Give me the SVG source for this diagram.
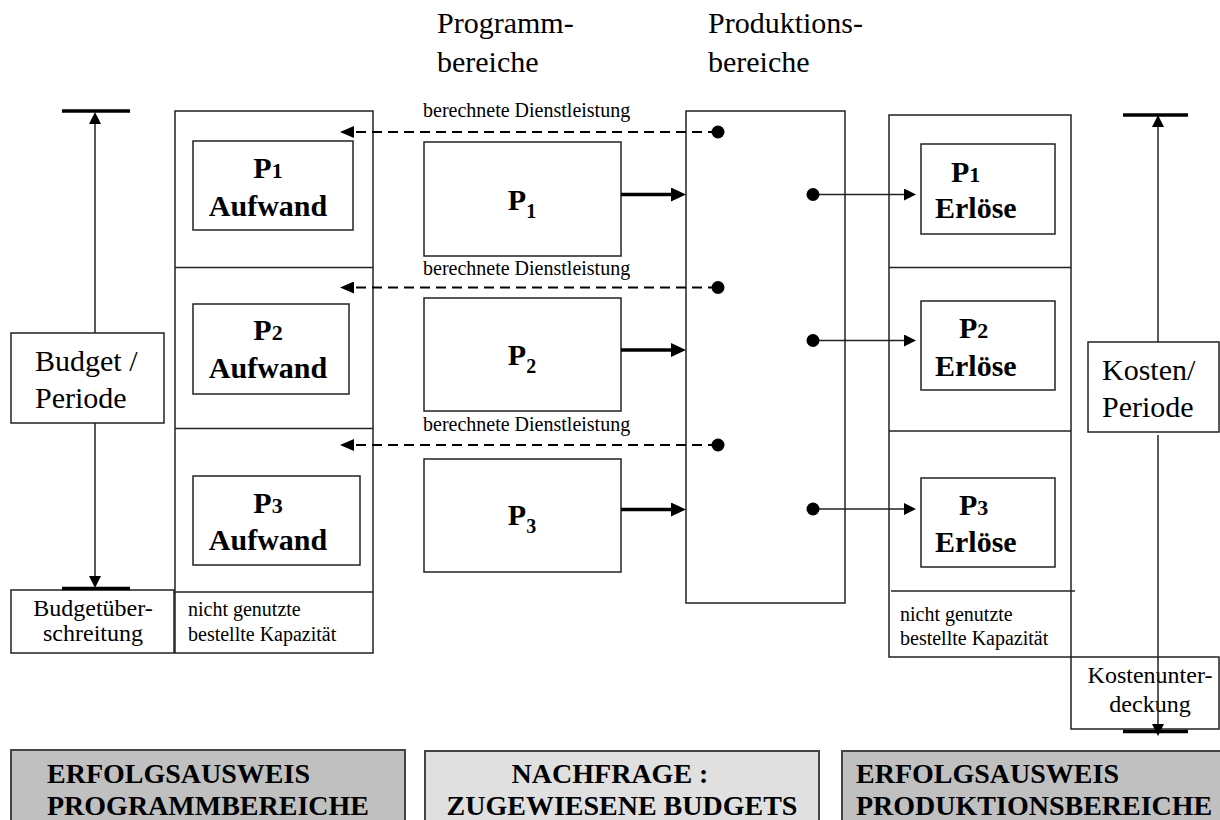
<svg xmlns="http://www.w3.org/2000/svg" width="1220" height="820" viewBox="0 0 1220 820">
<style>
.box{fill:#fff;stroke:#222;stroke-width:1.5}
.t{font-family:"Liberation Serif","Times New Roman",serif;fill:#000}
.big{font-size:30px}
.mid{font-size:24px}
.sm{font-size:20px}
.b{font-weight:bold}
.ln{stroke:#222;stroke-width:1.5;fill:none}
.bar{stroke:#000;stroke-width:3.5}
.dash{stroke:#000;stroke-width:2;stroke-dasharray:10 6;fill:none}
.thick{stroke:#000;stroke-width:3.5;fill:none}
.foot{stroke:#444;stroke-width:2}
</style>
<defs>
<marker id="ah" markerUnits="userSpaceOnUse" viewBox="0 0 12 12" refX="0" refY="6" markerWidth="12" markerHeight="12" orient="auto"><path d="M0,0L12,6L0,12z" fill="#000"/></marker>
<marker id="ahd" markerUnits="userSpaceOnUse" viewBox="0 0 14 12" refX="0" refY="6" markerWidth="14" markerHeight="12" orient="auto"><path d="M0,0L14,6L0,12z" fill="#000"/></marker>
<marker id="ahb" markerUnits="userSpaceOnUse" viewBox="0 0 15 14" refX="0" refY="7" markerWidth="15" markerHeight="14" orient="auto"><path d="M0,0L15,7L0,14z" fill="#000"/></marker>
<marker id="dot" markerUnits="userSpaceOnUse" viewBox="0 0 14 14" refX="7" refY="7" markerWidth="14" markerHeight="14"><circle cx="7" cy="7" r="6.5" fill="#000"/></marker>
</defs>

<g id="headers">
<text class="t big" x="437" y="33">Programm-</text>
<text class="t big" x="437" y="72">bereiche</text>
<text class="t big" x="708" y="33">Produktions-</text>
<text class="t big" x="708" y="72">bereiche</text>
</g>

<g id="budget">
<rect class="box" x="11" y="333" width="153" height="90"/>
<text class="t big" x="35" y="371">Budget /</text>
<text class="t big" x="35" y="408">Periode</text>
</g>

<g id="budgetueberschreitung">
<rect class="box" x="11" y="590" width="163" height="63"/>
<text class="t mid" x="93" y="616" text-anchor="middle">Budgetüber-</text>
<text class="t mid" x="93" y="641" text-anchor="middle">schreitung</text>
</g>

<g id="programm-aufwand">
<rect class="box" x="175" y="111" width="198" height="542"/>
<line class="ln" x1="175" y1="267.5" x2="373" y2="267.5"/>
<line class="ln" x1="175" y1="428.5" x2="373" y2="428.5"/>
<line class="ln" x1="175" y1="592" x2="373" y2="592"/>
<text class="t sm" x="188" y="616">nicht genutzte</text>
<text class="t sm" x="188" y="641">bestellte Kapazität</text>
</g>

<g id="p1-aufwand">
<rect class="box" x="193" y="141" width="160" height="89"/>
<text class="t big b" x="268" y="178" text-anchor="middle">P<tspan font-size="22">1</tspan></text>
<text class="t big b" x="268" y="216" text-anchor="middle">Aufwand</text>
</g>
<g id="p2-aufwand">
<rect class="box" x="193" y="304" width="156" height="90"/>
<text class="t big b" x="268" y="340" text-anchor="middle">P<tspan font-size="22">2</tspan></text>
<text class="t big b" x="268" y="378" text-anchor="middle">Aufwand</text>
</g>
<g id="p3-aufwand">
<rect class="box" x="193" y="476" width="167" height="89"/>
<text class="t big b" x="268" y="513" text-anchor="middle">P<tspan font-size="22">3</tspan></text>
<text class="t big b" x="268" y="550" text-anchor="middle">Aufwand</text>
</g>

<g id="p1">
<rect class="box" x="424" y="142" width="197" height="114"/>
<text class="t big b" x="522" y="210" text-anchor="middle">P<tspan font-size="20" dy="8">1</tspan></text>
</g>
<g id="p2">
<rect class="box" x="424" y="298" width="197" height="113"/>
<text class="t big b" x="522" y="365" text-anchor="middle">P<tspan font-size="20" dy="8">2</tspan></text>
</g>
<g id="p3">
<rect class="box" x="424" y="459" width="197" height="113"/>
<text class="t big b" x="522" y="525" text-anchor="middle">P<tspan font-size="20" dy="8">3</tspan></text>
</g>

<g id="produktion">
<rect class="box" x="686" y="111" width="159" height="492"/>
</g>

<g id="produktion-erloese">
<rect class="box" x="889" y="115" width="182" height="542"/>
<line class="ln" x1="889" y1="267.5" x2="1071" y2="267.5"/>
<line class="ln" x1="889" y1="431" x2="1071" y2="431"/>
<line class="ln" x1="891" y1="591" x2="1075" y2="591"/>
<text class="t sm" x="900" y="621">nicht genutzte</text>
<text class="t sm" x="900" y="645">bestellte Kapazität</text>
</g>

<g id="p1-erloese">
<rect class="box" x="921" y="144" width="134" height="90"/>
<text class="t big b" x="951" y="182">P<tspan font-size="22">1</tspan></text>
<text class="t big b" x="935" y="218">Erlöse</text>
</g>
<g id="p2-erloese">
<rect class="box" x="921" y="301" width="134" height="89"/>
<text class="t big b" x="959" y="338">P<tspan font-size="22">2</tspan></text>
<text class="t big b" x="935" y="376">Erlöse</text>
</g>
<g id="p3-erloese">
<rect class="box" x="921" y="478" width="134" height="89"/>
<text class="t big b" x="959" y="515">P<tspan font-size="22">3</tspan></text>
<text class="t big b" x="935" y="552">Erlöse</text>
</g>

<g id="kosten">
<rect class="box" x="1088" y="342" width="131" height="90"/>
<text class="t big" x="1102" y="380">Kosten/</text>
<text class="t big" x="1102" y="417">Periode</text>
</g>

<g id="kostenunterdeckung">
<rect class="box" x="1071" y="657" width="148" height="72"/>
<text class="t mid" x="1150" y="683" text-anchor="middle">Kostenunter-</text>
<text class="t mid" x="1150" y="712" text-anchor="middle">deckung</text>
</g>

<g id="connectors">
<line class="bar" x1="62" y1="111" x2="130" y2="111"/>
<line class="ln" x1="95" y1="333" x2="95" y2="124" marker-end="url(#ah)"/>
<line class="ln" x1="95" y1="423" x2="95" y2="576" marker-end="url(#ah)"/>
<line class="bar" x1="62" y1="588.5" x2="130" y2="588.5"/>

<line class="bar" x1="1123" y1="115" x2="1188" y2="115"/>
<line class="ln" x1="1158" y1="342" x2="1158" y2="127" marker-end="url(#ah)"/>
<line class="ln" x1="1158" y1="435" x2="1158" y2="724" marker-end="url(#ah)"/>
<line class="bar" x1="1123" y1="731.5" x2="1188" y2="731.5"/>

<line class="dash" x1="718" y1="132" x2="354" y2="132" marker-start="url(#dot)" marker-end="url(#ahd)"/>
<line class="dash" x1="718" y1="287.5" x2="354" y2="287.5" marker-start="url(#dot)" marker-end="url(#ahd)"/>
<line class="dash" x1="718" y1="445" x2="354" y2="445" marker-start="url(#dot)" marker-end="url(#ahd)"/>
<text class="t sm" x="423" y="117">berechnete Dienstleistung</text>
<text class="t sm" x="423" y="275">berechnete Dienstleistung</text>
<text class="t sm" x="423" y="431">berechnete Dienstleistung</text>

<line class="thick" x1="621" y1="194.5" x2="671" y2="194.5" marker-end="url(#ahb)"/>
<line class="thick" x1="621" y1="350" x2="671" y2="350" marker-end="url(#ahb)"/>
<line class="thick" x1="621" y1="509.5" x2="671" y2="509.5" marker-end="url(#ahb)"/>

<line class="ln" x1="813" y1="194.5" x2="904" y2="194.5" marker-start="url(#dot)" marker-end="url(#ah)"/>
<line class="ln" x1="813" y1="340.5" x2="904" y2="340.5" marker-start="url(#dot)" marker-end="url(#ah)"/>
<line class="ln" x1="813" y1="509" x2="904" y2="509" marker-start="url(#dot)" marker-end="url(#ah)"/>
</g>

<g id="footer-programm">
<rect class="foot" x="11" y="750" width="394" height="80" fill="#c0c0c0"/>
<text class="t b" font-size="28" x="47" y="783">ERFOLGSAUSWEIS</text>
<text class="t b" font-size="28" x="47" y="815">PROGRAMMBEREICHE</text>
</g>
<g id="footer-nachfrage">
<rect class="foot" x="425" y="751" width="394" height="80" fill="#e0e0e0"/>
<text class="t b" font-size="28" x="610" y="783" text-anchor="middle">NACHFRAGE :</text>
<text class="t b" font-size="28" x="622" y="815" text-anchor="middle">ZUGEWIESENE BUDGETS</text>
</g>
<g id="footer-produktion">
<rect class="foot" x="842" y="751" width="390" height="80" fill="#c0c0c0"/>
<text class="t b" font-size="28" x="856" y="783">ERFOLGSAUSWEIS</text>
<text class="t b" font-size="28" x="856" y="815">PRODUKTIONSBEREICHE</text>
</g>
</svg>
